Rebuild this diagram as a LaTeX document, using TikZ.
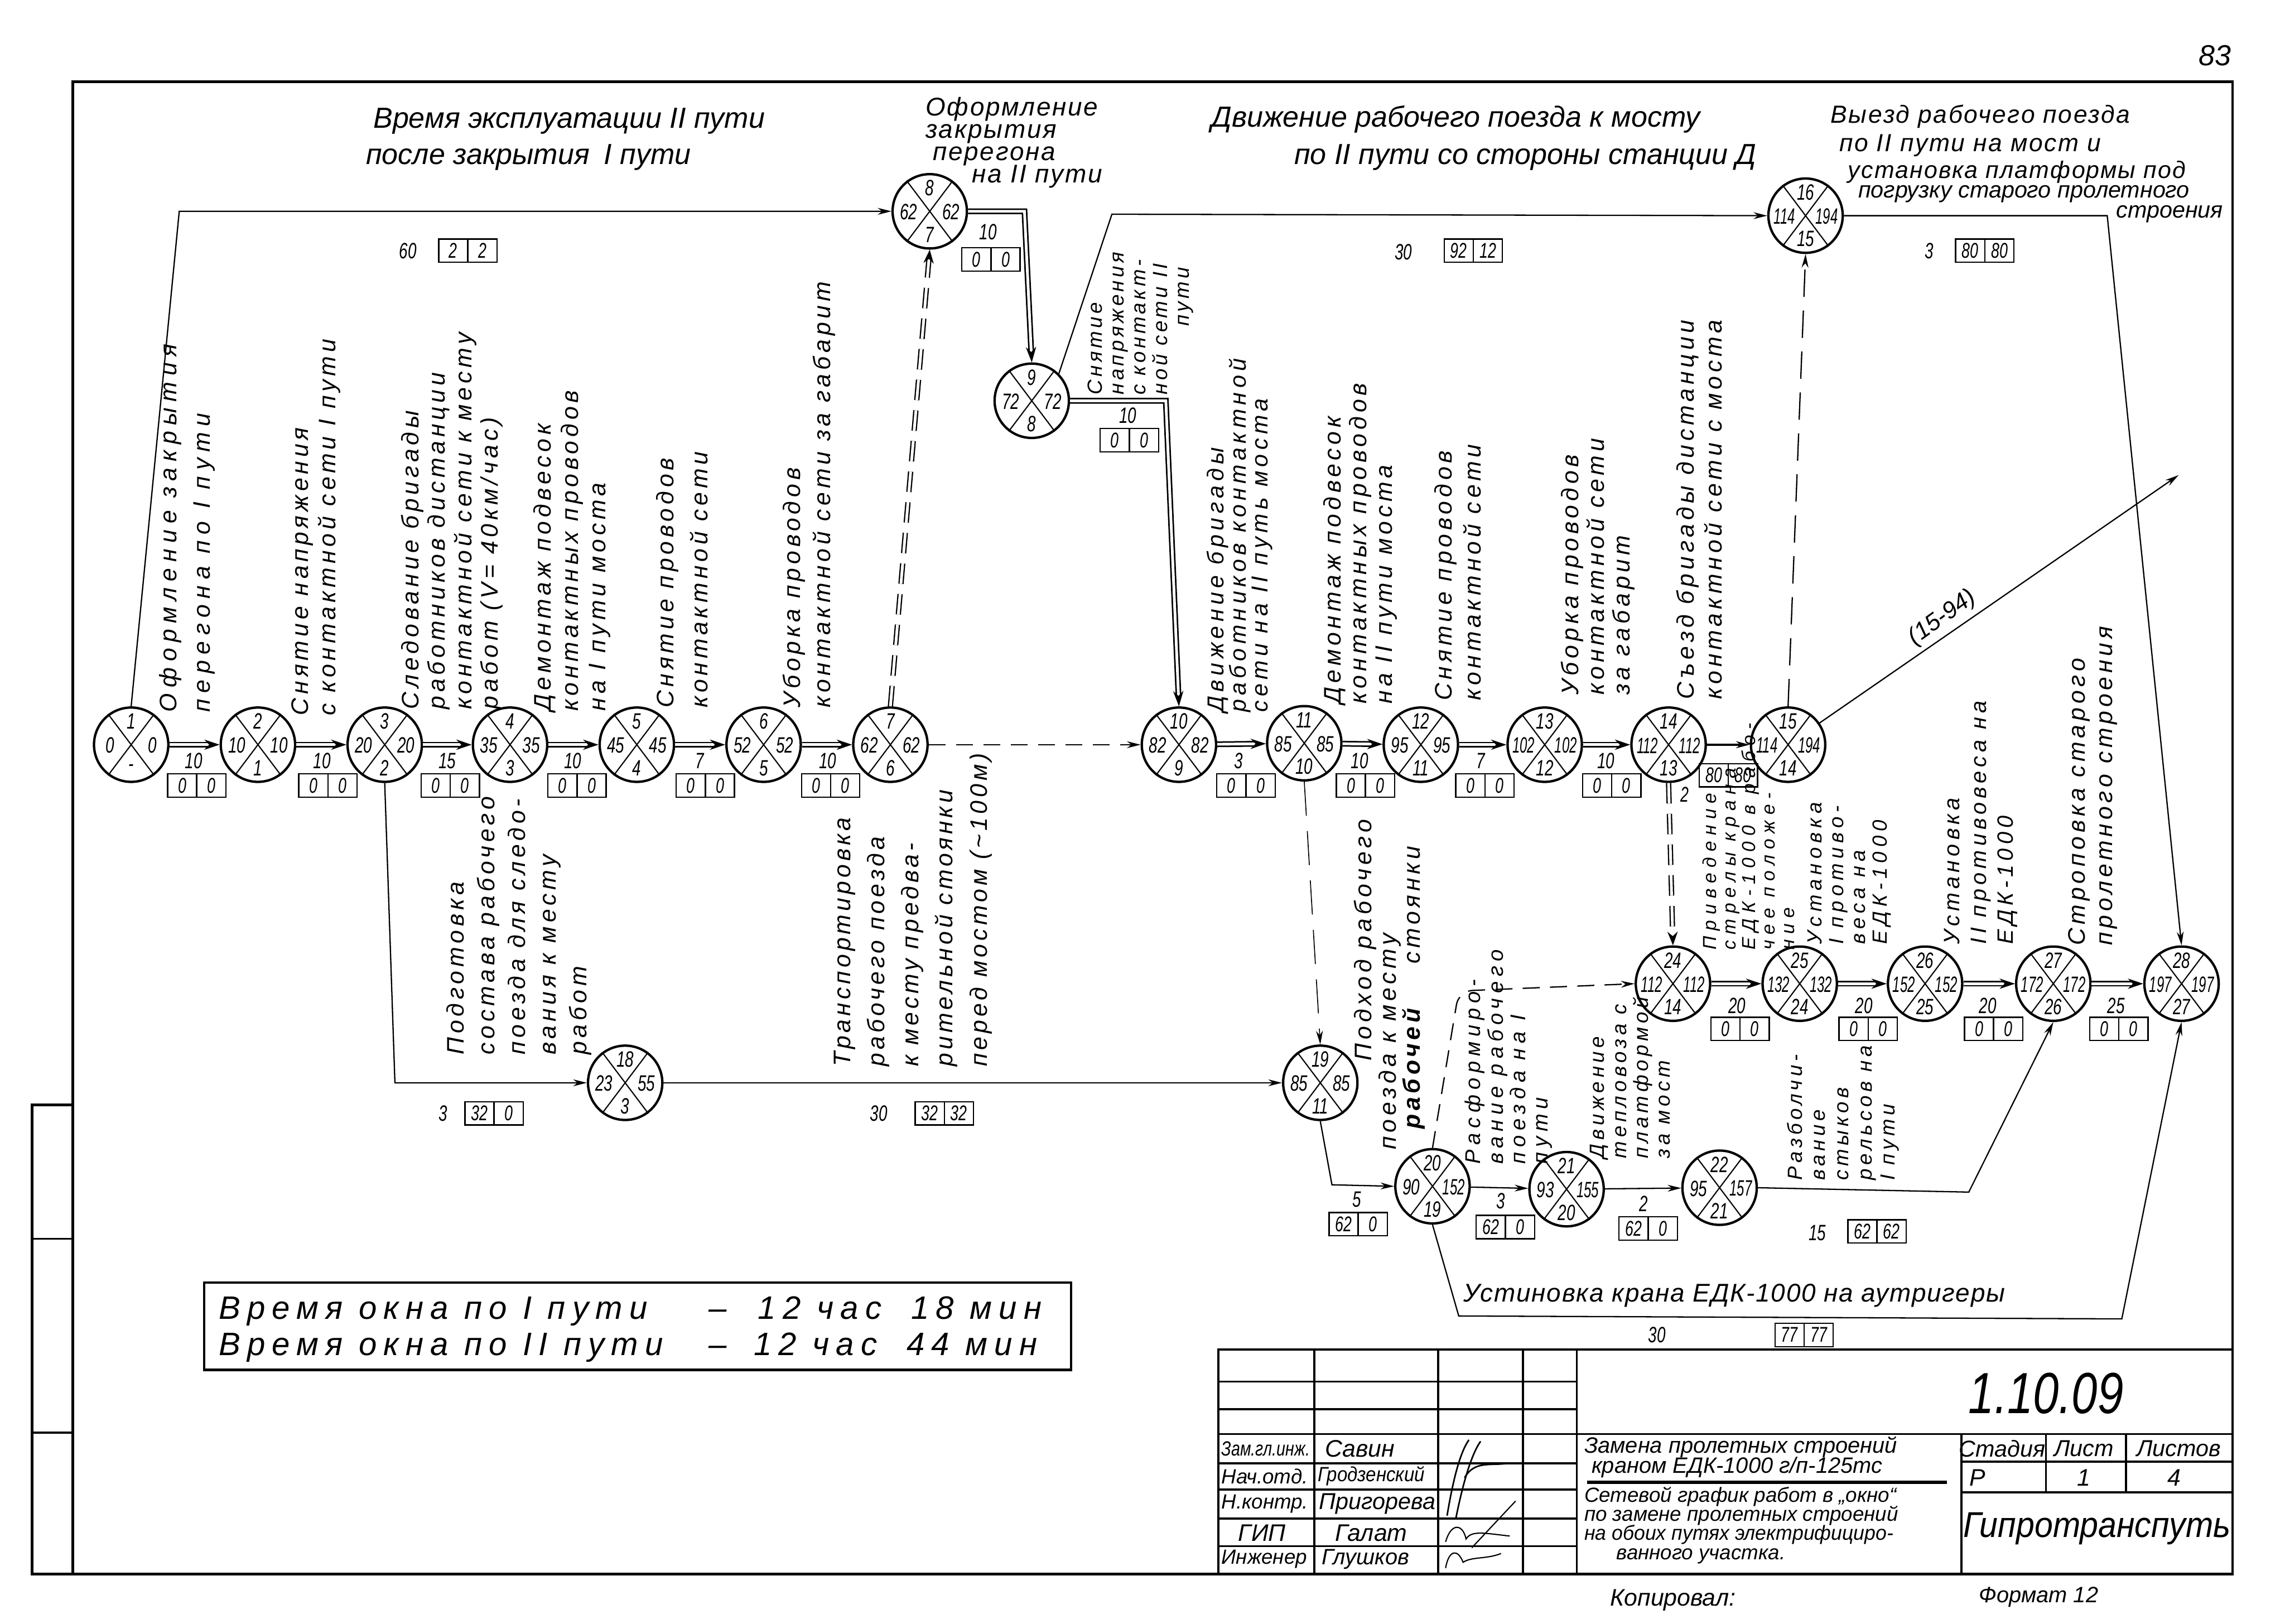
\documentclass[tikz,border=0pt]{standalone}
\usepackage{fontspec}
\setmainfont{Liberation Sans}
\usepackage{graphicx}
\usetikzlibrary{shapes.geometric,arrows.meta,calc}
\newcommand\nb[1]{\scalebox{0.7}[1]{#1}}
\newcommand\tn[1]{\scalebox{0.86}[1]{#1}}
\tikzset{
 evt/.style={circle, draw, line width=1.4pt, minimum size=15.3mm, inner sep=0pt},
 num/.style={font=\fontsize{13}{13}\selectfont\itshape, inner sep=0pt},
 snum/.style={font=\fontsize{12.5}{12.5}\selectfont\itshape, inner sep=0pt},
 vl/.style n args={3}{rotate=90, anchor=north west, align=left, inner sep=0pt, font=\fontsize{#1}{#2}\selectfont\itshape\addfontfeature{LetterSpace=#3}},
 hd/.style={font=\fontsize{17}{20}\selectfont\itshape, inner sep=0pt},
 hm/.style={font=\fontsize{15}{18}\selectfont\itshape\addfontfeature{LetterSpace=6}, inner sep=0pt},
 wb/.style={font=\fontsize{19}{20}\selectfont\itshape\addfontfeature{LetterSpace=21}, inner sep=0pt, anchor=base west},
 tbs/.style={font=\fontsize{12}{14}\selectfont\itshape, inner sep=0pt},
 crit/.style={double, double distance=1.6pt, line width=0.9pt, -{Stealth[length=9pt,width=6pt]}},
 act/.style={line width=0.75pt, -{Stealth[length=8pt,width=4pt]}},
 dum/.style={line width=0.75pt, dash pattern=on 10pt off 6pt, -{Stealth[length=8pt,width=4pt]}},
 dumd/.style={double, double distance=1.6pt, line width=0.75pt, dash pattern=on 12pt off 6pt, -{Stealth[length=8pt,width=6pt]}},
 frm/.style={line width=1.6pt},
 tb/.style={line width=1.2pt},
}
\newcommand\evnode[7]{%
  \node[evt] (#1) at (#2,#3) {};
  \draw[line width=0.7pt] (#1.53)--(#1.233) (#1.127)--(#1.307);
  \node[num] (#1t) at ($(#1)+(0,-16)$) {\nb{#4}};
  \node[num] (#1l) at ($(#1)+(-14.5,0.5)$) {\nb{#5}};
  \node[num] (#1r) at ($(#1)+(14.5,0.5)$) {\nb{#6}};
  \node[num] (#1b) at ($(#1)+(0,16)$) {\nb{#7}};
}
\newcommand\fbx[5]{%
  \draw[line width=0.8pt] ({#2-20},{#3-8}) rectangle ({#2+20},{#3+8}) (#2,{#3-8})--(#2,{#3+8});
  \node[snum] (#1a) at ({#2-10},#3) {\nb{#4}};
  \node[snum] (#1b) at ({#2+10},#3) {\nb{#5}};
}
\begin{document}
\begin{tikzpicture}[x=0.3mm,y=-0.3mm]
\useasboundingbox (0,0) rectangle (1568,1114);
% frame
\draw[frm] (50,56) rectangle (1532,1080);
\draw[frm] (22,758) rectangle (50,1080);
\draw[tb] (22,850) -- (50,850) (22,983) -- (50,983);
\node[hd] (pg) at (1520,38) {83};

% events
\evnode{n1}{90}{511}{1}{0}{0}{-}
\evnode{n2}{177}{511}{2}{10}{10}{1}
\evnode{n3}{264}{511}{3}{20}{20}{2}
\evnode{n4}{350}{511}{4}{35}{35}{3}
\evnode{n5}{437}{511}{5}{45}{45}{4}
\evnode{n6}{524}{511}{6}{52}{52}{5}
\evnode{n7}{611}{511}{7}{62}{62}{6}
\evnode{n8}{638}{145}{8}{62}{62}{7}
\evnode{n9}{708}{275}{9}{72}{72}{8}
\evnode{n10}{809}{511}{10}{82}{82}{9}
\evnode{n11}{895}{510}{11}{85}{85}{10}
\evnode{n12}{975}{511}{12}{95}{95}{11}
\evnode{n13}{1060}{511}{13}{\tn{102}}{\tn{102}}{12}
\evnode{n14}{1145}{511}{14}{\tn{112}}{\tn{112}}{13}
\evnode{n15}{1227}{511}{15}{\tn{114}}{\tn{194}}{14}
\evnode{n16}{1239}{148}{16}{\tn{114}}{\tn{194}}{15}
\evnode{n18}{429}{743}{18}{23}{55}{3}
\evnode{n19}{906}{743}{19}{85}{85}{11}
\evnode{n20}{983}{814}{20}{90}{\tn{152}}{19}
\evnode{n21}{1075}{816}{21}{93}{\tn{155}}{20}
\evnode{n22}{1180}{815}{22}{95}{\tn{157}}{21}
\evnode{n24}{1148}{675}{24}{\tn{112}}{\tn{112}}{14}
\evnode{n25}{1235}{675}{25}{\tn{132}}{\tn{132}}{24}
\evnode{n26}{1321}{675}{26}{\tn{152}}{\tn{152}}{25}
\evnode{n27}{1409}{675}{27}{\tn{172}}{\tn{172}}{26}
\evnode{n28}{1497}{675}{28}{\tn{197}}{\tn{197}}{27}

% corner coordinates
\coordinate (c18) at (123,145);
\coordinate (c89) at (703,145);
\coordinate (c910) at (800,275);
\coordinate (c916) at (763,147);
\coordinate (c1628) at (1446,148);
\coordinate (e1594) at (1495,326);
\coordinate (c318) at (271,743);
\coordinate (c1920) at (914,813);
\coordinate (c2227) at (1351,818);
\coordinate (c2028a) at (1001,903);
\coordinate (c2028b) at (1456,905);
\coordinate (c2024) at (1001,680);

% critical edges
\draw[crit] (n1) -- (n2);
\draw[crit] (n2) -- (n3);
\draw[crit] (n3) -- (n4);
\draw[crit] (n4) -- (n5);
\draw[crit] (n5) -- (n6);
\draw[crit] (n6) -- (n7);
\draw[crit] (n8.east) -- (c89) -- (n9.north);
\draw[crit] (n9.east) -- (c910) -- (n10.north);
\draw[crit] (n10) -- (n11);
\draw[crit] (n11) -- (n12);
\draw[crit] (n12) -- (n13);
\draw[crit] (n13) -- (n14);
\draw[act, line width=1.4pt] (n14) -- (n15);
\draw[crit] (n24) -- (n25);
\draw[crit] (n25) -- (n26);
\draw[crit] (n26) -- (n27);
\draw[crit] (n27) -- (n28);
% dummies
\draw[dumd] (n7.north) -- (n8.south);
\draw[dumd] (n14.south) -- (n24.north);
\draw[dum] (n7) -- (n10);
\draw[dum, dash pattern=on 16pt off 8pt] (n15.north) -- (n16.south);
\draw[dum, dash pattern=on 20pt off 9pt, line width=0.55pt] (n11.south) -- (n19.north);
\draw[dum, rounded corners=8pt] (n20.north) -- (c2024) -- (n24.west);
% other activities
\draw[act] (n1.north) -- (c18) -- (n8.west);
\draw[act] (n9.45) -- (c916) -- (n16.west);
\draw[act] (n16.east) -- (c1628) -- (n28.north);
\draw[act] (n15) -- (e1594);
\draw[act] (n3.south) -- (c318) -- (n18.west);
\draw[act] (n18) -- (n19);
\draw[act] (n19.south) -- (c1920) -- (n20.west);
\draw[act] (n20) -- (n21);
\draw[act] (n21) -- (n22);
\draw[act] (n22.east) -- (c2227) -- (n27.south);
\draw[act] (n20.south) -- (c2028a) -- (c2028b) -- (n28.south);

% durations and reserves
\node[num] (d12) at (133,522) {\nb{10}}; \fbx{f12}{135}{539}{0}{0}
\node[num] (d23) at (221,522) {\nb{10}}; \fbx{f23}{225}{539}{0}{0}
\node[num] (d34) at (307,522) {\nb{15}}; \fbx{f34}{309}{539}{0}{0}
\node[num] (d45) at (393,522) {\nb{10}}; \fbx{f45}{396}{539}{0}{0}
\node[num] (d56) at (480,522) {\nb{7}}; \fbx{f56}{484}{539}{0}{0}
\node[num] (d67) at (568,522) {\nb{10}}; \fbx{f67}{570}{539}{0}{0}
\node[num] (d1011) at (850,522) {\nb{3}}; \fbx{f1011}{855}{539}{0}{0}
\node[num] (d1112) at (933,522) {\nb{10}}; \fbx{f1112}{937}{539}{0}{0}
\node[num] (d1213) at (1016,522) {\nb{7}}; \fbx{f1213}{1019}{539}{0}{0}
\node[num] (d1314) at (1102,522) {\nb{10}}; \fbx{f1314}{1106}{539}{0}{0}
\fbx{f1415}{1186}{532}{80}{80}
\node[snum] (s2) at (1156,545) {\nb{2}};
\node[num] (d2425) at (1192,690) {\nb{20}}; \fbx{f2425}{1194}{706}{0}{0}
\node[num] (d2526) at (1279,690) {\nb{20}}; \fbx{f2526}{1282}{706}{0}{0}
\node[num] (d2627) at (1364,690) {\nb{20}}; \fbx{f2627}{1368}{706}{0}{0}
\node[num] (d2728) at (1452,690) {\nb{25}}; \fbx{f2728}{1454}{706}{0}{0}
\node[num] (d18) at (280,172) {\nb{60}}; \fbx{f18}{321}{172}{2}{2}
\node[num] (d89) at (678,159) {\nb{10}}; \fbx{f89}{680}{178}{0}{0}
\node[num] (d910) at (774,285) {\nb{10}}; \fbx{f910}{775}{302}{0}{0}
\node[num] (d916) at (963,173) {\nb{30}}; \fbx{f916}{1011}{172}{92}{12}
\node[num] (d1628) at (1324,172) {\nb{3}}; \fbx{f1628}{1362}{172}{80}{80}
\node[num] (d318) at (304,764) {\nb{3}}; \fbx{f318}{339}{764}{32}{0}
\node[num] (d1819) at (603,764) {\nb{30}}; \fbx{f1819}{648}{764}{32}{32}
\node[num] (d1920) at (931,823) {\nb{5}}; \fbx{f1920}{932}{840}{62}{0}
\node[num] (d2021) at (1030,824) {\nb{3}}; \fbx{f2021}{1033}{842}{62}{0}
\node[num] (d2122) at (1128,826) {\nb{2}}; \fbx{f2122}{1131}{843}{62}{0}
\node[num] (d2227) at (1247,846) {\nb{15}}; \fbx{f2227}{1288}{845}{62}{62}
\node[num] (d2028) at (1137,916) {\nb{30}}; \fbx{f2028}{1238}{916}{77}{77}
\node[num, rotate=36, font=\fontsize{14}{14}\selectfont\itshape] (d1594) at (1333,424) {(15-94)};

% headings
\node[hd, anchor=west] (h1) at (256,83) {Время эксплуатации II пути};
\node[hd, anchor=west] (h2) at (251,108) {после закрытия\enspace I пути};
\node[hm, anchor=west] (h3) at (635,75) {Оформление};
\node[hm, anchor=west] (h4) at (635,92) {закрытия};
\node[hm, anchor=west] (h5) at (640,107) {перегона};
\node[hm, anchor=west] (h6) at (667,121) {на II пути};
\node[hd, anchor=west] (h7) at (831,82) {Движение рабочего поезда к мосту};
\node[hd, anchor=west] (h8) at (888,108) {по II пути со стороны станции Д};
\node[hm, anchor=west, font=\fontsize{14.5}{16}\selectfont\itshape\addfontfeature{LetterSpace=6}] (h9) at (1256,80) {Выезд рабочего поезда};
\node[hm, anchor=west, font=\fontsize{14.5}{16}\selectfont\itshape\addfontfeature{LetterSpace=6}] (h10) at (1262,100) {по II пути на мост и};
\node[hm, anchor=west, font=\fontsize{14}{16}\selectfont\itshape\addfontfeature{LetterSpace=5}] (h11) at (1268,118) {установка платформы под};
\node[hm, anchor=west, font=\fontsize{13.5}{15}\selectfont\itshape] (h12) at (1275,133) {погрузку старого пролетного};
\node[hm, anchor=west, font=\fontsize{13.5}{15}\selectfont\itshape] (h13) at (1452,147) {строения};

% vertical labels
\node[vl={14}{19.5}{25}] (l1) at (109,489) {Оформление закрытия\\перегона по I пути};
\node[vl={14}{16}{16}] (l2) at (200,491) {Снятие напряжения\\с контактной сети I пути};
\node[vl={14}{15.5}{16}] (l3) at (275,487) {Следование бригады\\работников дистанции\\контактной сети к месту\\работ (V= 40км/час)};
\node[vl={14}{16}{16}] (l4) at (366,488) {Демонтаж подвесок\\контактных проводов\\на I пути моста};
\node[vl={14}{20}{16}] (l5) at (450,486) {Снятие проводов\\контактной сети};
\node[vl={14}{17.5}{16}] (l6) at (537,486) {Уборка проводов\\контактной сети за габарит};
\node[vl={12}{12.8}{15}] (l7) at (746,271) {Снятие\\напряжения\\с контакт-\\ной сети II\\\hspace*{40pt}пути};
\node[vl={13.5}{12.8}{18}] (l8) at (828,489) {Движение бригады\\работников контактной\\сети на II путь моста};
\node[vl={14}{15}{16}] (l9) at (908,483) {Демонтаж подвесок\\контактных проводов\\на II пути моста};
\node[vl={14}{17}{16}] (l10) at (984,481) {Снятие проводов\\контактной сети};
\node[vl={14}{15}{16}] (l11) at (1071,477) {Уборка проводов\\контактной сети\\за габарит};
\node[vl={14}{16.5}{16}] (l12) at (1150,480) {Съезд бригады дистанции\\контактной сети с моста};
\node[vl={14}{18}{16}] (l13) at (306,724) {Подготовка\\состава рабочего\\поезда для следо-\\вания к месту\\работ};
\node[vl={14}{20}{14}] (l14) at (572,732) {Транспортировка\\рабочего поезда\\к месту предва-\\рительной стоянки\\перед мостом (\textasciitilde100м)};
\node[vl={14}{16}{16}] (l15a) at (929,728) {Подход рабочего};
\node[vl={14}{16}{16}] (l15b) at (946,789) {поезда к месту};
\node[vl={14}{16}{16}] (l15c) at (962,775) {{\bfseries рабочей}\hspace{26pt}стоянки};
\node[vl={12.5}{13.2}{23}] (l16) at (1005,799) {Расформиро-\\вание рабочего\\поезда на I\\пути};
\node[vl={12}{12.8}{18}] (l17) at (1091,795) {Движение\\тепловоза с\\платформой\\за мост};
\node[vl={12}{13.6}{18}] (l18) at (1226,810) {Разболчи-\\вание\\стыков\\рельсов на\\I пути};
\node[vl={11}{11.5}{30}] (l19) at (1168,652) {Приведение\\стрелы крана\\ЕДК-1000 в рабо-\\чее положе-\\ние};
\node[vl={12}{12.8}{22}] (l20) at (1240,648) {Установка\\I противо-\\веса на\\ЕДК-1000};
\node[vl={13}{15.7}{18}] (l21) at (1334,648) {Установка\\II противовеса на\\ЕДК-1000};
\node[vl={14}{16}{16}] (l22) at (1419,649) {Строповка старого\\пролетного строения};
\node[hm, anchor=west, font=\fontsize{15}{17}\selectfont\itshape\addfontfeature{LetterSpace=4}] (l23) at (1004,889) {Устиновка крана ЕДК-1000 на аутригеры};

% window box
\draw[line width=1.4pt] (140,880) rectangle (735,940);
\node[wb] (w1) at (150,905) {Время окна по I пути};
\node[wb] (w2) at (486,905) {–};
\node[wb] (w3) at (520,905) {12 час};
\node[wb] (w4) at (625,905) {18 мин};
\node[wb] (w5) at (150,930) {Время окна по II пути};
\node[wb] (w6) at (486,930) {–};
\node[wb] (w7) at (517,930) {12 час};
\node[wb] (w8) at (622,930) {44 мин};

% title block
\draw[tb] (836,1080) -- (836,926) -- (1532,926);
\foreach \x in {902,987,1045,1082} \draw[tb] (\x,926) -- (\x,1080);
\foreach \y in {948,967,1004,1022,1042,1061} \draw[tb] (836,\y) -- (1082,\y);
\draw[tb] (836,984) -- (1532,984);
\draw[tb] (1346,984) -- (1346,1080);
\draw[tb] (1404,984) -- (1404,1024) (1459,984) -- (1459,1024);
\draw[tb] (1346,1003) -- (1532,1003) (1346,1024) -- (1532,1024);
\draw[line width=2pt] (1089,1017) -- (1336,1017);
\node[tbs, anchor=west] (t1) at (838,994) {\scalebox{0.78}[1]{Зам.гл.инж.}};
\node[tbs, anchor=west] (t2) at (838,1013) {Нач.отд.};
\node[tbs, anchor=west] (t3) at (838,1032) {Н.контр.};
\node[tbs, font=\fontsize{14}{14}\selectfont\itshape] (t4) at (866,1052) {ГИП};
\node[tbs, anchor=west] (t5) at (838,1070) {Инженер};
\node[tbs, anchor=west, font=\fontsize{14}{14}\selectfont\itshape] (t6) at (909,994) {Савин};
\node[tbs, anchor=west] (t7) at (904,1013) {\scalebox{0.9}[1]{Гродзенский}};
\node[tbs, anchor=west, font=\fontsize{13.5}{14}\selectfont\itshape] (t8) at (905,1032) {Пригорева};
\node[tbs, font=\fontsize{14}{14}\selectfont\itshape] (t9) at (941,1052) {Галат};
\node[tbs, anchor=west, font=\fontsize{13}{14}\selectfont\itshape] (t10) at (907,1070) {Глушков};
\node[tbs, anchor=west, font=\fontsize{13}{14}\selectfont\itshape] (t11) at (1087,993) {Замена пролетных строений};
\node[tbs, anchor=west, font=\fontsize{13}{14}\selectfont\itshape] (t12) at (1092,1007) {краном ЕДК-1000 г/п-125тс};
\node[tbs, anchor=west] (t13) at (1087,1027) {Сетевой график работ в „окно“};
\node[tbs, anchor=west] (t14) at (1087,1040) {по замене пролетных строений};
\node[tbs, anchor=west] (t15) at (1087,1053) {\scalebox{0.97}[1]{на обоих путях электрифициро-}};
\node[tbs, anchor=west] (t16) at (1109,1068) {ванного участка.};
\node[tbs, font=\fontsize{13.5}{14}\selectfont\itshape] (t17) at (1374,994) {Стадия};
\node[tbs, font=\fontsize{13.5}{14}\selectfont\itshape] (t18) at (1430,994) {Лист};
\node[tbs, font=\fontsize{13.5}{14}\selectfont\itshape] (t19) at (1495,994) {Листов};
\node[tbs, font=\fontsize{14}{14}\selectfont\itshape] (t20) at (1357,1014) {Р};
\node[tbs, font=\fontsize{14}{14}\selectfont\itshape] (t21) at (1430,1014) {1};
\node[tbs, font=\fontsize{14}{14}\selectfont\itshape] (t22) at (1492,1014) {4};
\node[tbs, font=\fontsize{21}{24}\selectfont\itshape] (t23) at (1439,1049) {\scalebox{0.92}[1]{Гипротранспуть}};
\node[tbs, font=\fontsize{34}{36}\selectfont\itshape] (t24) at (1404,956) {\scalebox{0.8}[1]{1.10.09}};
\node[tbs, font=\fontsize{14}{16}\selectfont\itshape] (t25) at (1148,1098) {Копировал:};
\node[tbs, font=\fontsize{13}{16}\selectfont\itshape] (t26) at (1399,1096) {Формат 12};
% signatures
\draw[line width=0.9pt] (993,1040) .. controls (998,1010) and (1003,995) .. (1008,988);
\draw[line width=0.9pt] (999,1042) .. controls (1005,1012) and (1011,996) .. (1016,989);
\draw[line width=0.9pt] (1005,1014) .. controls (1012,1002) and (1022,1006) .. (1036,1004);
\draw[line width=0.7pt] (1010,1062) -- (1040,1030);
\draw[line width=0.7pt] (992,1058) .. controls (996,1044) and (1004,1046) .. (1006,1056) .. controls (1010,1050) and (1018,1052) .. (1036,1054);
\draw[line width=0.7pt] (992,1076) .. controls (994,1064) and (1000,1062) .. (1004,1072) .. controls (1010,1068) and (1020,1070) .. (1030,1066);
\end{tikzpicture}
\end{document}
